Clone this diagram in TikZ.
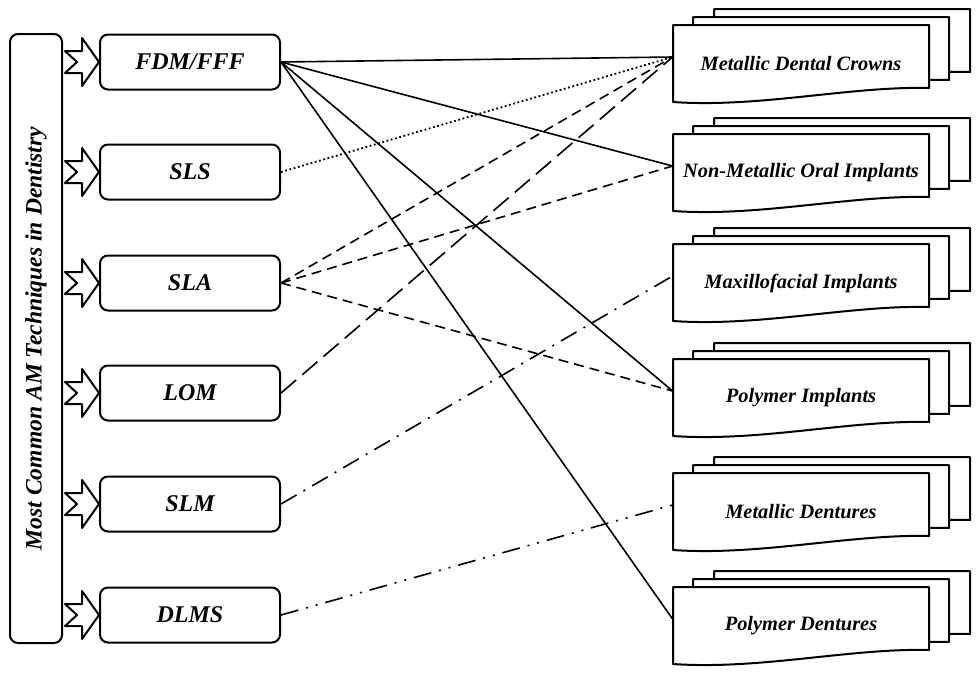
\documentclass[tikz,border=0pt]{standalone}
\usepackage{fontspec}
\setmainfont{Liberation Serif}
\usetikzlibrary{calc}

\begin{document}
\begin{tikzpicture}[x=0.5pt, y=-0.5pt, line join=round]

  \tikzset{
    techbox/.style={rectangle, rounded corners=4pt, draw, line width=1pt,
      minimum width=90pt, minimum height=27.5pt, fill=white,
      font=\fontsize{12}{14}\selectfont\bfseries\itshape},
    sidebox/.style={rectangle, rounded corners=4pt, draw, line width=1pt,
      minimum width=304.5pt, minimum height=26pt, rotate=90,
      font=\fontsize{11.8}{14}\selectfont\bfseries\itshape},
    notcharrow/.style={draw, line width=1pt, fill=white},
    docpage/.style={draw, line width=1pt, fill=white},
    doclabel/.style={rectangle, minimum width=128pt, minimum height=39pt,
      inner sep=0pt, font=\fontsize{10.2}{12}\selectfont\bfseries\itshape},
    solidlink/.style={line width=0.8pt},
    dotlink/.style={line width=0.9pt, dash pattern=on 0.9pt off 1.3pt},
    dashlink/.style={line width=0.8pt, dash pattern=on 5pt off 3pt},
    longdashlink/.style={line width=0.8pt, dash pattern=on 10pt off 4pt},
    dashdotlink/.style={line width=0.8pt,
      dash pattern=on 9pt off 4pt on 1pt off 4pt},
    dashdotdotlink/.style={line width=0.8pt,
      dash pattern=on 9pt off 4pt on 1pt off 4pt on 1pt off 4pt}
  }

  \useasboundingbox (0,0) rectangle (980,676);

  % left column
  \node[sidebox] (amtech) at (36,338.5)
    {Most Common AM Techniques in Dentistry};

  \foreach \name/\ypos/\txt in {fdm/62/{FDM/FFF}, sls/172/SLS, sla/283/SLA,
      lom/393/LOM, slm/504/SLM, dlms/615/DLMS} {
    \node[techbox] (\name) at (190,\ypos) {\txt};
    \draw[notcharrow] (\name.west) -- ++(-17,-24) -- ++(0,13) -- ++(-17,0)
      -- ++(12,11) -- ++(-12,11) -- ++(17,0) -- ++(0,13) -- cycle;
  }

  % right column: stacked documents
  \foreach \name/\ypos/\txt in {crowns/64/Metallic Dental Crowns,
      nonmetal/173/Non-Metallic Oral Implants,
      maxfac/283/Maxillofacial Implants,
      polyimp/398/Polymer Implants,
      metdent/512/Metallic Dentures,
      polydent/626/Polymer Dentures} {
    \foreach \dx/\dy in {41/-16, 20/-8, 0/0}
      \draw[docpage, shift={(\dx,\dy)}] (673,\ypos-39) -- (929,\ypos-39)
        -- (929,\ypos+24) .. controls (850,\ypos+22) and (760,\ypos+44)
        .. (673,\ypos+38) -- cycle;
    \node[doclabel] (\name) at (801,\ypos) {\txt};
  }

  % connectors
  \draw[solidlink] (fdm.east) -- ([yshift=3.5pt]crowns.west);
  \draw[solidlink] (fdm.east) -- ([yshift=3.5pt]nonmetal.west);
  \draw[solidlink] (fdm.east) -- ([yshift=3.5pt]polyimp.west);
  \draw[solidlink] (fdm.east) -- ([yshift=3.5pt]polydent.west);
  \draw[dotlink] (sls.east) -- ([yshift=3.5pt]crowns.west);
  \draw[dashlink] (sla.east) -- ([yshift=3.5pt]crowns.west);
  \draw[dashlink] (sla.east) -- ([yshift=3.5pt]nonmetal.west);
  \draw[dashlink] (sla.east) -- ([yshift=3.5pt]polyimp.west);
  \draw[longdashlink] (lom.east) -- ([yshift=3.5pt]crowns.west);
  \draw[dashdotlink] (slm.east) -- ([yshift=3.5pt]maxfac.west);
  \draw[dashdotdotlink] (dlms.east) -- ([yshift=3.5pt]metdent.west);

\end{tikzpicture}
\end{document}
